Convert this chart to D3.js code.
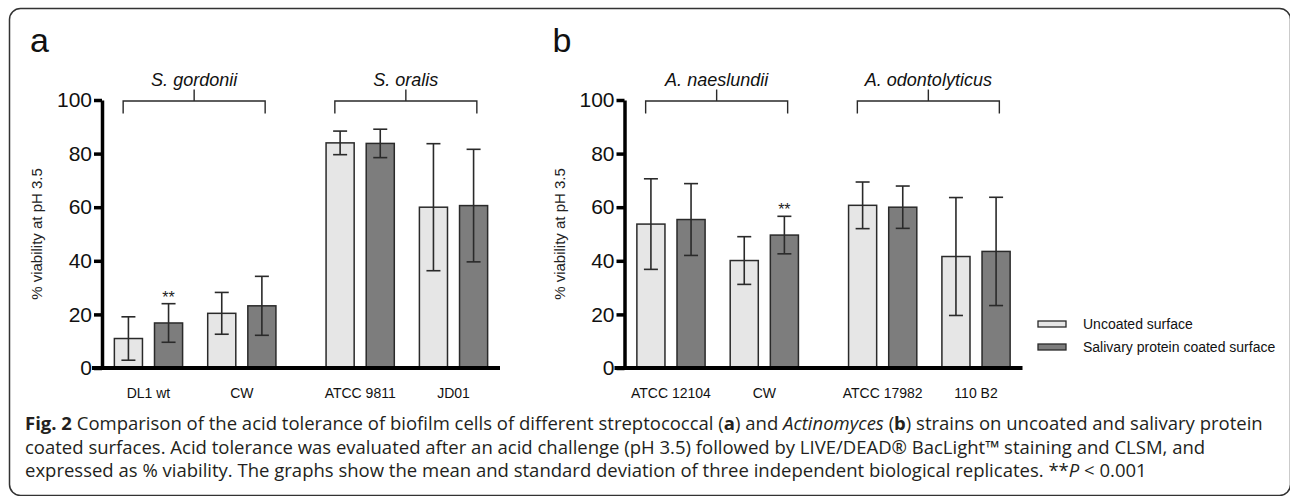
<!DOCTYPE html>
<html>
<head>
<meta charset="utf-8">
<script src="https://cdn.jsdelivr.net/npm/d3@7"></script>
<style>
  body { margin: 0; background: #fff; }
  svg { display: block; }
</style>
</head>
<body>
<div id="container"></div>
<script>
/* DATA */
const seriesNames = ["Uncoated surface", "Salivary protein coated surface"];

// panel a: streptococci
const speciesA = ["S. gordonii", "S. oralis"];
const strainsA = [["DL1 wt", "CW"], ["ATCC 9811", "JD01"]];
const uncoatedMeanA = [11.0, 20.4, 84.0, 60.0];
const uncoatedSdA = [8.1, 7.8, 4.4, 23.7];
const coatedMeanA = [16.8, 23.2, 83.8, 60.6];
const coatedSdA = [7.2, 11.0, 5.3, 21.0];
const coatedSigA = [true, false, false, false];

// panel b: Actinomyces
const speciesB = ["A. naeslundii", "A. odontolyticus"];
const strainsB = [["ATCC 12104", "CW"], ["ATCC 17982", "110 B2"]];
const uncoatedMeanB = [53.7, 40.1, 60.7, 41.6];
const uncoatedSdB = [16.9, 8.9, 8.7, 22.0];
const coatedMeanB = [55.4, 49.6, 60.0, 43.5];
const coatedSdB = [13.4, 7.0, 7.9, 20.2];
const coatedSigB = [false, true, false, false];

const yTicks = [0, 20, 40, 60, 80, 100];
const yLabel = "% viability at pH 3.5";

/* CONSTANTS */
const W = 1290, H = 496;
const colors = ["#e6e6e6", "#7d7d7d"];
const ink = "#2a2a2a";
const chartFont = "'Liberation Sans', Arial, sans-serif";

const svg = d3.select("#container")
  .append("svg")
    .attr("width", W)
    .attr("height", H);

// outer frame
svg.append("rect")
  .attr("x", 9.5).attr("y", 8.5)
  .attr("width", 1281).attr("height", 487)
  .attr("rx", 11)
  .attr("fill", "none")
  .attr("stroke", "#333")
  .attr("stroke-width", 1.5);

const y = d3.scaleLinear().domain([0, 100]).range([368, 100]);

function drawPanel(letter, axisX, species, strains, uMean, uSd, cMean, cSd, cSig) {
  const g = svg.append("g");

  const rows = [];
  species.forEach((sp, si) => {
    strains[si].forEach((st, ci) => {
      const k = si * 2 + ci;
      rows.push({sp, st, series: 0, mean: uMean[k], sd: uSd[k], sig: false});
      rows.push({sp, st, series: 1, mean: cMean[k], sd: cSd[k], sig: cSig[k]});
    });
  });

  /* X SCALES (nested bands) */
  const xSp = d3.scaleBand()
    .domain(species)
    .range([axisX, axisX + 398])
    .paddingInner(0.18)
    .paddingOuter(0.03);
  const xSt = d3.scaleBand()
    .domain([0, 1])
    .range([0, xSp.bandwidth()])
    .paddingInner(0.14)
    .paddingOuter(0);
  const xSe = d3.scaleBand()
    .domain([0, 1])
    .range([0, xSt.bandwidth()])
    .paddingInner(0.3)
    .paddingOuter(0.15);

  const catX = d => xSp(d.sp) + xSt(strains[species.indexOf(d.sp)].indexOf(d.st));
  const barX = d => catX(d) + xSe(d.series);

  /* PANEL LETTER */
  g.append("text")
    .attr("x", axisX - 72)
    .attr("y", 52)
    .style("font-family", chartFont)
    .style("font-size", "34px")
    .attr("fill", "#111")
    .text(letter);

  /* Y AXIS */
  const yAxis = g.append("g")
    .attr("transform", `translate(${axisX},0)`)
    .call(d3.axisLeft(y).tickValues(yTicks).tickSize(8).tickSizeOuter(0).tickPadding(2));
  yAxis.select(".domain").attr("stroke", "#000").attr("stroke-width", 3.5);
  yAxis.selectAll(".tick line").attr("stroke", "#000").attr("stroke-width", 3.5);
  yAxis.selectAll(".tick text")
    .style("font-family", chartFont)
    .style("font-size", "21px")
    .attr("fill", "#111");

  g.append("text")
    .attr("transform", `translate(${axisX - 65},${(y(0) + y(100)) / 2}) rotate(-90)`)
    .attr("text-anchor", "middle")
    .attr("dy", "0.35em")
    .style("font-family", chartFont)
    .style("font-size", "15px")
    .attr("fill", "#222")
    .text(yLabel);

  /* BARS */
  g.selectAll("rect.bar")
    .data(rows)
    .join("rect")
    .attr("class", "bar")
    .attr("x", d => barX(d))
    .attr("y", d => y(d.mean))
    .attr("width", xSe.bandwidth())
    .attr("height", d => y(0) - y(d.mean))
    .attr("fill", d => colors[d.series])
    .attr("stroke", ink)
    .attr("stroke-width", 1.5);

  /* ERROR BARS */
  const cap = 7;
  const eb = g.selectAll("g.err")
    .data(rows)
    .join("g")
    .attr("class", "err")
    .attr("stroke", ink)
    .attr("stroke-width", 1.6);
  eb.append("line")
    .attr("x1", d => barX(d) + xSe.bandwidth() / 2)
    .attr("x2", d => barX(d) + xSe.bandwidth() / 2)
    .attr("y1", d => y(d.mean - d.sd))
    .attr("y2", d => y(d.mean + d.sd));
  eb.append("line")
    .attr("x1", d => barX(d) + xSe.bandwidth() / 2 - cap)
    .attr("x2", d => barX(d) + xSe.bandwidth() / 2 + cap)
    .attr("y1", d => y(d.mean + d.sd))
    .attr("y2", d => y(d.mean + d.sd));
  eb.append("line")
    .attr("x1", d => barX(d) + xSe.bandwidth() / 2 - cap)
    .attr("x2", d => barX(d) + xSe.bandwidth() / 2 + cap)
    .attr("y1", d => y(d.mean - d.sd))
    .attr("y2", d => y(d.mean - d.sd));

  /* SIGNIFICANCE */
  g.selectAll("text.sig")
    .data(rows.filter(d => d.sig))
    .join("text")
    .attr("class", "sig")
    .attr("x", d => barX(d) + xSe.bandwidth() / 2)
    .attr("y", d => y(d.mean + d.sd) - 1)
    .attr("text-anchor", "middle")
    .style("font-family", chartFont)
    .style("font-size", "16px")
    .attr("fill", "#222")
    .text("**");

  /* X AXIS */
  g.append("line")
    .attr("x1", axisX - 10)
    .attr("x2", axisX + 398)
    .attr("y1", y(0))
    .attr("y2", y(0))
    .attr("stroke", "#000")
    .attr("stroke-width", 3.8);

  const cats = rows.filter(d => d.series === 0);
  g.selectAll("text.cat")
    .data(cats)
    .join("text")
    .attr("class", "cat")
    .attr("x", d => catX(d) + xSt.bandwidth() / 2)
    .attr("y", 398)
    .attr("text-anchor", "middle")
    .style("font-family", chartFont)
    .style("font-size", "14px")
    .attr("fill", "#111")
    .text(d => d.st);

  /* SPECIES BRACKETS */
  const br = g.selectAll("g.bracket")
    .data(species)
    .join("g")
    .attr("class", "bracket")
    .attr("transform", d => `translate(${xSp(d) + xSp.bandwidth() / 2 - 1},${y(100)})`);
  br.append("path")
    .attr("d", "M-71,13.5V1H71V13.5M0,1V-10.5")
    .attr("fill", "none")
    .attr("stroke", ink)
    .attr("stroke-width", 1.4);
  br.append("text")
    .attr("y", -14)
    .attr("text-anchor", "middle")
    .style("font-family", chartFont)
    .style("font-size", "18px")
    .style("font-style", "italic")
    .attr("fill", "#111")
    .text(d => d);
}

drawPanel("a", 102, speciesA, strainsA, uncoatedMeanA, uncoatedSdA, coatedMeanA, coatedSdA, coatedSigA);
drawPanel("b", 624.5, speciesB, strainsB, uncoatedMeanB, uncoatedSdB, coatedMeanB, coatedSdB, coatedSigB);

/* LEGEND */
const legend = svg.append("g")
  .attr("transform", "translate(1038,324)");
const li = legend.selectAll("g")
  .data(seriesNames)
  .join("g")
  .attr("transform", (d, i) => `translate(0,${i * 23})`);
li.append("rect")
  .attr("x", 0).attr("y", -3)
  .attr("width", 28).attr("height", 6)
  .attr("fill", (d, i) => colors[i])
  .attr("stroke", ink)
  .attr("stroke-width", 1.3);
li.append("text")
  .attr("x", 45)
  .attr("dy", "0.35em")
  .style("font-family", chartFont)
  .style("font-size", "14px")
  .attr("fill", "#111")
  .text(d => d);

/* CAPTION */
const capFont = "'Open Sans', 'Noto Sans', sans-serif";
const caption = svg.append("text")
  .attr("x", 25)
  .style("font-family", capFont)
  .style("font-size", "18.5px")
  .attr("fill", "#231f20");

const line1 = caption.append("tspan").attr("x", 25).attr("y", 430);
line1.append("tspan").style("font-weight", "bold").text("Fig. 2");
line1.append("tspan").text(" Comparison of the acid tolerance of biofilm cells of different streptococcal (");
line1.append("tspan").style("font-weight", "bold").text("a");
line1.append("tspan").text(") and ");
line1.append("tspan").style("font-style", "italic").text("Actinomyces");
line1.append("tspan").text(" (");
line1.append("tspan").style("font-weight", "bold").text("b");
line1.append("tspan").text(") strains on uncoated and salivary protein");

caption.append("tspan").attr("x", 25).attr("y", 454)
  .text("coated surfaces. Acid tolerance was evaluated after an acid challenge (pH 3.5) followed by LIVE/DEAD\u00ae BacLight\u2122 staining and CLSM, and");

const line3 = caption.append("tspan").attr("x", 25).attr("y", 477);
line3.append("tspan").text("expressed as % viability. The graphs show the mean and standard deviation of three independent biological replicates. **");
line3.append("tspan").style("font-style", "italic").text("P");
line3.append("tspan").text(" < 0.001");
</script>
</body>
</html>
